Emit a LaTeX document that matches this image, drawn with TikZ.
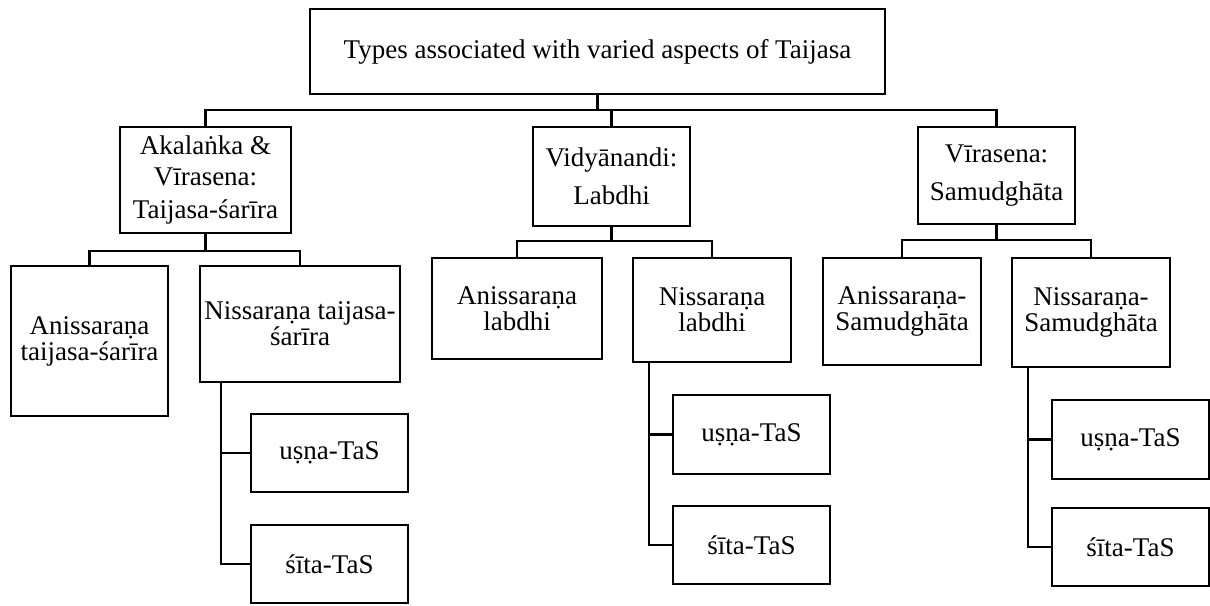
\documentclass[tikz,border=0pt]{standalone}
\usepackage{fontspec}
\setmainfont{Liberation Serif}
\begin{document}
\begin{tikzpicture}[x=1pt,y=-1pt,
  box/.style={draw, line width=2.5pt, inner sep=0pt, align=center,
              font=\fontsize{27}{26}\selectfont},
  link/.style={line width=2.5pt}]
\useasboundingbox (0,0) rectangle (1210,605);

% top level
\node[box, minimum width=575, minimum height=85] (root) at (597.5,51.5)
  {Types associated with varied aspects of Taijasa};

% second level
\node[box, minimum width=171, minimum height=106] (A) at (205.5,180)
  {Akalaṅka \&\\[5pt]Vīrasena:\\[7pt]Taijasa-śarīra};
\node[box, minimum width=157, minimum height=99] (B) at (611.5,176.5)
  {Vidyānandi:\\[12pt]Labdhi};
\node[box, minimum width=157, minimum height=97] (C) at (996.5,175.5)
  {Vīrasena:\\[12pt]Samudghāta};

% third level
\node[box, minimum width=157, minimum height=150] (A1) at (89.5,341)
  {Anissaraṇa\\taijasa-śarīra};
\node[box, minimum width=200, minimum height=116] (A2) at (300,324)
  {Nissaraṇa taijasa-\\śarīra};
\node[box, minimum width=170, minimum height=101] (B1) at (517,308.5)
  {Anissaraṇa\\labdhi};
\node[box, minimum width=158, minimum height=104] (B2) at (712,310)
  {Nissaraṇa\\labdhi};
\node[box, minimum width=158, minimum height=107] (C1) at (902,311.5)
  {Anissaraṇa-\\Samudghāta};
\node[box, minimum width=158, minimum height=109] (C2) at (1091,312.5)
  {Nissaraṇa-\\Samudghāta};

% fourth level
\node[box, minimum width=157, minimum height=78] (A2u) at (329.5,453) {uṣṇa-TaS};
\node[box, minimum width=157, minimum height=78] (A2s) at (329.5,564) {śīta-TaS};
\node[box, minimum width=157, minimum height=79] (B2u) at (751.5,434.5) {uṣṇa-TaS};
\node[box, minimum width=157, minimum height=78] (B2s) at (751.5,545) {śīta-TaS};
\node[box, minimum width=157, minimum height=79] (C2u) at (1130.5,439.5) {uṣṇa-TaS};
\node[box, minimum width=157, minimum height=78] (C2s) at (1130.5,547) {śīta-TaS};

% root to second level
\coordinate (rbar) at (598,110);
\draw[link] (root.south) -- (root.south |- rbar);
\draw[link] (A.north) -- (A.north |- rbar) -- (C.north |- rbar) -- (C.north);
\draw[link] (B.north) -- (B.north |- rbar);

% second to third level
\coordinate (abar) at (0,251);
\draw[link] (A.south) -- (A.south |- abar);
\draw[link] (A1.north) -- (A1.north |- abar) -- (A2.north |- abar) -- (A2.north);
\coordinate (bbar) at (0,241);
\draw[link] (B.south) -- (B.south |- bbar);
\draw[link] (B1.north) -- (B1.north |- bbar) -- (B2.north |- bbar) -- (B2.north);
\coordinate (cbar) at (0,240);
\draw[link] (C.south) -- (C.south |- cbar);
\draw[link] (C1.north) -- (C1.north |- cbar) -- (C2.north |- cbar) -- (C2.north);

% third to fourth level
\coordinate (astem) at ([xshift=-79pt]A2.south);
\draw[link] (astem) |- (A2s.west);
\draw[link] (A2u.west) -- (A2u.west -| astem);
\coordinate (bstem) at ([xshift=-63pt]B2.south);
\draw[link] (bstem) |- (B2s.west);
\draw[link] (B2u.west) -- (B2u.west -| bstem);
\coordinate (cstem) at ([xshift=-63pt]C2.south);
\draw[link] (cstem) |- (C2s.west);
\draw[link] (C2u.west) -- (C2u.west -| cstem);
\end{tikzpicture}
\end{document}
